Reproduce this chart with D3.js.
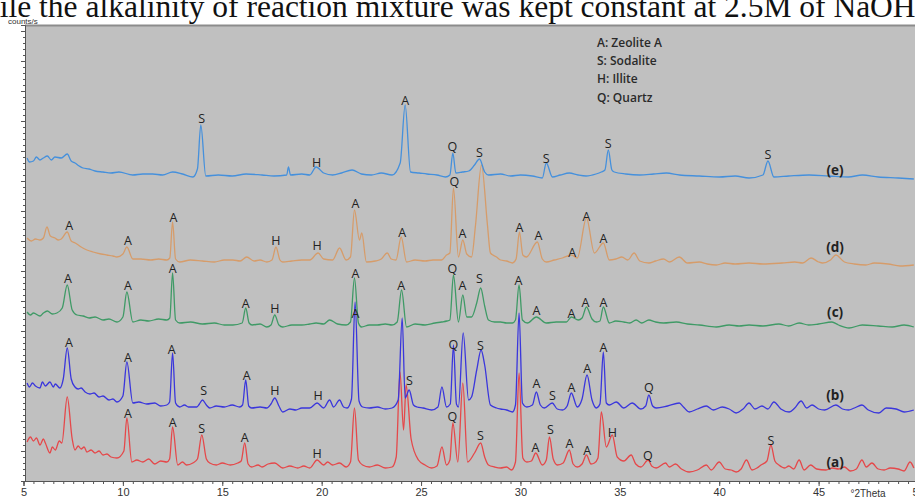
<!DOCTYPE html>
<html>
<head>
<meta charset="utf-8">
<script src="https://cdn.jsdelivr.net/npm/d3@7/dist/d3.min.js"></script>
<style>
  body { margin: 0; background: #fff; }
  svg { display: block; }
</style>
</head>
<body>
<svg width="915" height="500"></svg>
<script>
// XRD patterns (a)-(e). Each trace: [2theta, counts above its own offset]
const seriesNames = ['(a)', '(b)', '(c)', '(d)', '(e)'];
const offsets = [0, 700, 1550, 2150, 3000];

const traceA = [[5.18,390],[5.35,440],[5.5,400],[5.65,430],[5.83,360],[6.0,420],[6.1,380],[6.33,280],[6.45,340],[6.6,310],[6.8,400],
  [6.93,380],[7.2,840],[7.45,420],[7.59,310],[7.75,350],[7.9,320],[8.05,340],[8.19,290],[8.4,310],[8.6,280],[8.8,300],[9.0,260],
  [9.2,270],[9.4,240],[9.7,230],[10.05,300],[10.2,630],[10.45,190],[10.7,210],[11.0,190],[11.3,220],[11.6,170],[11.9,200],[12.21,190],
  [12.35,220],[12.5,540],[12.76,160],[13.0,190],[13.2,160],[13.52,180],[13.75,220],[13.97,460],[14.2,220],[14.37,180],[14.7,160],
  [15.0,180],[15.4,160],[15.78,180],[15.95,200],[16.13,380],[16.3,170],[16.48,140],[16.8,160],[17.0,140],[17.3,170],[17.64,180],
  [18.04,130],[18.4,150],[18.8,130],[19.1,150],[19.4,130],[19.77,210],[20.1,160],[20.3,190],[20.55,160],[20.9,180],[21.23,140],
  [21.45,190],[21.65,730],[21.85,210],[22.06,160],[22.4,140],[22.8,160],[23.2,130],[23.54,140],[23.75,240],[23.94,1090],[24.12,510],
  [24.25,960],[24.5,420],[24.87,210],[25.2,160],[25.53,130],[25.8,150],[26.05,340],[26.28,160],[26.45,210],[26.6,580],[26.85,190],
  [27.1,980],[27.34,190],[27.69,280],[28.0,380],[28.2,240],[28.39,160],[28.7,140],[29.0,130],[29.3,140],[29.55,110],[29.75,190],
  [29.93,1080],[30.12,230],[30.32,190],[30.55,200],[30.77,280],[31.1,160],[31.3,210],[31.46,440],[31.65,220],[31.86,160],[32.15,180],
  [32.46,310],[32.65,170],[32.86,140],[33.1,170],[33.32,260],[33.55,170],[33.72,180],[33.9,230],[34.07,690],[34.32,340],[34.62,460],
  [34.87,240],[35.2,200],[35.57,260],[35.8,170],[36.06,140],[36.43,210],[36.6,150],[36.83,130],[37.3,180],[37.49,140],[37.8,170],
  [38.1,120],[38.49,90],[38.9,110],[39.35,160],[39.6,110],[40.0,190],[40.3,120],[40.6,110],[40.85,90],[41.1,120],[41.37,210],
  [41.65,110],[41.9,130],[42.1,160],[42.4,200],[42.6,360],[42.8,200],[43.0,160],[43.3,130],[43.5,150],[43.75,120],[44.02,210],
  [44.27,110],[44.6,160],[44.9,120],[45.37,110],[45.7,130],[46.0,120],[46.3,140],[46.6,100],[46.9,120],[47.18,210],[47.4,140],
  [47.68,180],[48.0,120],[48.3,110],[48.6,130],[49.0,120],[49.3,100],[49.6,190],[49.79,130]];

const traceB = [[5.18,280],[5.3,240],[5.45,280],[5.6,250],[5.83,230],[5.95,290],[6.1,250],[6.33,290],[6.5,240],[6.6,270],[6.83,230],
  [7.0,320],[7.2,630],[7.4,320],[7.59,240],[7.75,220],[7.9,230],[8.1,190],[8.34,170],[8.55,180],[8.8,140],[9.0,150],[9.3,110],
  [9.5,120],[9.7,90],[10.0,150],[10.2,490],[10.5,80],[10.8,90],[11.2,70],[11.6,80],[11.9,50],[12.21,60],[12.35,90],[12.5,580],
  [12.65,80],[12.86,40],[13.1,60],[13.3,40],[13.72,40],[13.85,70],[14.0,110],[14.2,60],[14.37,30],[14.7,50],[15.1,40],[15.5,60],
  [15.87,40],[16.02,60],[16.18,310],[16.33,50],[16.48,30],[16.9,40],[17.24,30],[17.45,70],[17.64,130],[17.85,50],[18.04,-10],
  [18.4,20],[18.7,10],[19.0,30],[19.4,30],[19.77,80],[20.1,30],[20.4,110],[20.6,40],[20.9,110],[21.1,40],[21.28,30],[21.5,120],
  [21.68,1090],[21.88,100],[22.06,40],[22.4,30],[22.8,40],[23.2,20],[23.54,30],[23.85,110],[24.05,930],[24.2,130],[24.4,210],
  [24.62,60],[24.8,40],[25.1,30],[25.53,10],[25.85,40],[26.05,240],[26.28,40],[26.47,70],[26.63,660],[26.78,70],[26.88,40],
  [27.12,780],[27.39,110],[27.54,140],[27.8,410],[28.02,610],[28.2,460],[28.49,60],[28.8,30],[29.0,20],[29.3,10],[29.6,-10],
  [29.75,60],[29.93,980],[30.1,80],[30.32,40],[30.6,60],[30.8,190],[31.0,60],[31.2,30],[31.6,80],[31.85,20],[32.11,10],[32.35,50],
  [32.56,180],[32.86,40],[33.1,120],[33.35,360],[33.6,110],[33.82,30],[34.0,70],[34.17,590],[34.32,80],[34.47,60],[34.82,90],
  [35.2,30],[35.62,80],[36.06,20],[36.3,50],[36.46,160],[36.65,50],[36.83,30],[37.4,50],[37.99,80],[38.2,40],[38.49,-10],[38.9,20],
  [39.35,50],[39.7,10],[40.15,40],[40.5,20],[40.85,-20],[41.2,20],[41.5,80],[41.8,20],[42.15,50],[42.45,20],[42.75,90],[43.1,20],
  [43.52,-10],[43.8,30],[44.12,100],[44.4,30],[44.67,60],[45.0,20],[45.3,10],[45.87,60],[46.2,20],[46.5,10],[46.8,30],[47.18,60],
  [47.5,10],[48.03,-20],[48.4,30],[48.9,20],[49.3,-10],[49.79,10]];

const traceC = [[5.18,140],[5.35,110],[5.5,130],[5.83,100],[6.0,130],[6.2,150],[6.45,120],[6.68,130],[6.95,180],[7.2,410],[7.45,160],
  [7.69,110],[8.0,100],[8.3,80],[8.6,90],[9.0,60],[9.3,70],[9.7,40],[10.0,90],[10.2,340],[10.5,40],[10.9,60],[11.3,50],[11.8,70],
  [12.21,60],[12.36,80],[12.5,530],[12.65,60],[12.86,30],[13.4,40],[14.0,20],[14.6,30],[15.1,10],[15.53,10],[16.0,30],[16.18,180],
  [16.35,30],[16.5,10],[16.9,20],[17.24,-10],[17.45,10],[17.64,110],[17.85,10],[18.04,-10],[18.5,10],[19.0,10],[19.4,20],[19.72,30],
  [20.1,20],[20.4,60],[20.8,20],[21.23,10],[21.45,40],[21.65,480],[21.85,30],[22.0,-10],[22.4,10],[22.8,10],[23.2,20],[23.54,10],
  [23.8,40],[24.02,360],[24.27,-10],[24.7,20],[25.2,10],[25.7,30],[26.03,40],[26.3,50],[26.45,60],[26.63,510],[26.88,40],[27.1,310],
  [27.3,90],[27.54,90],[27.8,230],[28.0,380],[28.2,200],[28.39,60],[28.7,40],[29.0,40],[29.3,30],[29.6,30],[29.75,60],[29.93,410],
  [30.1,60],[30.35,30],[30.8,90],[31.3,30],[31.8,40],[32.31,40],[32.56,90],[32.91,60],[33.1,80],[33.32,190],[33.6,70],[33.82,40],
  [34.0,50],[34.17,190],[34.47,30],[34.8,50],[35.2,40],[35.5,30],[35.82,60],[36.1,30],[36.46,60],[36.8,40],[37.2,30],[37.84,40],
  [38.4,20],[39.0,10],[39.85,-10],[40.5,10],[41.0,0],[41.5,10],[42.2,0],[43.0,20],[43.5,0],[44.02,30],[44.5,10],[45.0,20],[45.67,40],
  [46.0,10],[46.53,-20],[47.2,10],[48.0,0],[48.7,-10],[49.3,10],[49.79,-10]];

const traceD = [[5.18,280],[5.4,250],[5.6,270],[5.83,260],[6.0,280],[6.18,390],[6.35,300],[6.58,280],[6.75,260],[6.9,270],[7.2,340],
  [7.4,250],[7.6,230],[7.9,190],[8.19,160],[8.5,140],[8.9,120],[9.2,110],[9.5,100],[9.7,90],[10.0,120],[10.2,190],[10.5,70],
  [10.9,70],[11.4,60],[11.8,70],[12.21,60],[12.36,80],[12.5,440],[12.65,70],[12.86,40],[13.4,60],[14.0,50],[14.6,40],[15.1,60],
  [15.53,60],[15.9,50],[16.23,90],[16.6,50],[16.9,60],[17.24,40],[17.5,60],[17.7,190],[17.9,60],[18.04,40],[18.5,50],[19.0,60],
  [19.4,60],[19.82,130],[20.1,70],[20.55,60],[20.9,180],[21.23,60],[21.45,90],[21.65,560],[21.9,260],[22.02,330],[22.25,40],
  [22.7,50],[23.0,70],[23.3,130],[23.5,70],[23.74,60],[24.0,290],[24.27,40],[24.7,60],[25.2,50],[25.6,60],[26.03,60],[26.28,110],
  [26.45,130],[26.63,780],[26.88,90],[27.1,260],[27.3,120],[27.54,90],[27.74,410],[28.04,1010],[28.34,410],[28.49,130],[28.8,90],
  [29.0,60],[29.3,50],[29.6,30],[29.78,70],[29.95,340],[30.12,110],[30.3,90],[30.85,240],[31.1,70],[31.3,40],[31.7,60],[32.11,80],
  [32.56,110],[32.86,80],[33.32,480],[33.72,130],[34.17,230],[34.47,60],[34.8,70],[35.1,90],[35.4,60],[35.72,130],[36.0,50],
  [36.46,30],[36.8,50],[37.2,70],[37.5,40],[37.99,90],[38.4,30],[39.0,40],[39.4,20],[39.85,10],[40.3,30],[40.8,20],[41.5,30],
  [42.2,20],[43.17,30],[43.8,40],[44.2,30],[44.62,80],[45.0,40],[45.2,30],[45.6,60],[45.87,110],[46.3,40],[46.8,20],[47.38,10],
  [47.8,30],[48.5,20],[49.1,0],[49.79,10]];

const traceE = [[5.18,230],[5.3,190],[5.5,200],[5.65,240],[5.83,210],[6.0,230],[6.2,250],[6.4,210],[6.58,240],[6.9,230],[7.2,270],
  [7.4,200],[7.59,180],[7.8,150],[7.99,130],[8.3,120],[8.6,100],[9.0,90],[9.4,80],[9.8,90],[10.5,60],[11.0,70],[11.5,70],[12.0,60],
  [12.5,90],[13.0,70],[13.52,40],[13.75,120],[13.92,560],[14.17,50],[14.8,60],[15.5,50],[16.2,70],[17.0,60],[17.6,50],[18.24,60],
  [18.33,140],[18.43,60],[19.0,70],[19.4,60],[19.72,140],[20.1,80],[20.55,60],[21.0,80],[21.53,110],[22.0,70],[22.5,60],[23.0,80],
  [23.54,60],[23.95,180],[24.2,760],[24.47,90],[24.9,80],[25.3,70],[25.8,60],[26.23,40],[26.45,60],[26.6,280],[26.75,80],[27.08,90],
  [27.4,100],[27.69,160],[27.94,220],[28.2,90],[28.39,60],[29.0,70],[29.5,50],[30.0,60],[30.6,50],[31.1,30],[31.3,180],[31.61,40],
  [32.0,60],[32.46,80],[32.9,60],[33.3,50],[33.8,70],[34.07,90],[34.25,110],[34.42,310],[34.6,110],[34.72,90],[35.3,70],[36.0,60],
  [36.7,70],[37.34,80],[38.0,60],[39.0,50],[40.0,40],[40.8,50],[41.5,30],[42.2,60],[42.45,200],[42.75,40],[43.5,50],[44.52,60],
  [45.5,50],[46.5,40],[47.2,60],[48.0,40],[49.0,30],[49.79,20]];

const traces = [traceA, traceB, traceC, traceD, traceE];

// Phase letters: [2theta, letter, counts above the trace offset]
const labelsA = [[10.25,'A',680],[12.51,'A',590],[13.97,'S',530],[16.13,'A',440],[19.77,'H',280],[26.58,'Q',650],[27.99,'S',460],
  [30.75,'A',340],[31.51,'S',520],[32.46,'A',380],[33.36,'A',310],[34.62,'H',490],[36.41,'Q',260],[42.6,'S',410]];
const labelsB = [[7.29,'A',690],[10.25,'A',540],[12.46,'A',620],[14.07,'S',210],[16.23,'A',360],[17.64,'H',210],[19.82,'H',160],
  [21.7,'A',980],[24.42,'S',310],[26.63,'Q',670],[27.99,'S',660],[30.8,'A',280],[31.61,'S',160],[32.56,'A',240],[33.36,'A',430],
  [34.17,'A',640],[36.46,'Q',240]];
const labelsC = [[7.24,'A',480],[10.25,'A',410],[12.51,'A',580],[16.18,'A',230],[17.64,'H',180],[21.7,'A',530],[24.0,'A',410],
  [26.58,'Q',580],[27.08,'A',410],[27.94,'S',480],[29.9,'A',460],[30.8,'A',160],[32.56,'A',130],[33.27,'A',240],[34.17,'A',240]];
const labelsD = [[7.3,'A',410],[10.25,'A',260],[12.55,'A',490],[17.7,'H',260],[19.77,'H',210],[21.7,'A',630],[24.05,'A',340],
  [26.68,'Q',850],[27.08,'A',330],[29.95,'A',390],[30.9,'A',310],[32.61,'A',140],[33.32,'A',500],[34.17,'A',280]];
const labelsE = [[13.97,'S',630],[19.74,'H',190],[24.2,'A',810],[26.58,'Q',350],[27.94,'S',290],[31.3,'S',230],[34.42,'S',380],
  [42.45,'S',270]];
const peakLabels = [labelsA, labelsB, labelsC, labelsD, labelsE];

// Sample tags at the right: [2theta, counts above offset]
const tagPositions = [[45.83,190],[45.83,160],[45.83,140],[45.83,190],[45.83,110]];

const legendLines = ['A: Zeolite A', 'S: Sodalite', 'H: Illite', 'Q: Quartz'];
const xTicks = [5, 10, 15, 20, 25, 30, 35, 40, 45, 50];

const colors = ['#e5484a', '#3a36dc', '#3f9a66', '#d69c6a', '#4590dc'];

const svg = d3.select('svg');

const plot = { left: 25, top: 25, bottom: 481, right: 915 };

const x = d3.scaleLinear().domain([5, 50]).range([23.5, 918]);
const y = d3.scaleLinear().domain([0, 4560]).range([plot.bottom, plot.top]);

// clipped caption line from the page above the figure
svg.append('text')
    .attr('x', -16)
    .attr('y', 17)
    .attr('font-family', '"Liberation Serif", serif')
    .attr('font-size', 31.5)
    .attr('fill', '#111')
    .text('hile the alkalinity of reaction mixture was kept constant at 2.5M of NaOH');

svg.append('text')
    .attr('x', 8)
    .attr('y', 23.5)
    .attr('font-family', '"Liberation Sans", sans-serif')
    .attr('font-size', 8)
    .attr('fill', '#333')
    .text('counts/s');

// grey plot background
svg.append('rect')
    .attr('x', plot.left)
    .attr('y', plot.top)
    .attr('width', plot.right - plot.left)
    .attr('height', plot.bottom - plot.top)
    .attr('fill', '#c0c0c0');

svg.append('line')
    .attr('x1', plot.left).attr('x2', plot.right)
    .attr('y1', plot.top + 0.5).attr('y2', plot.top + 0.5)
    .attr('stroke', '#8c8c8c')
    .attr('stroke-width', 2);

// x axis: majors every 5, minors every 0.5
const xAxisG = svg.append('g').attr('transform', `translate(0, ${plot.bottom})`);
xAxisG.append('g')
    .call(d3.axisBottom(x).tickValues(d3.range(5, 50.01, 0.5)).tickSize(3).tickFormat(''))
    .call(g => g.select('.domain').remove());
xAxisG.append('g')
    .call(d3.axisBottom(x).tickValues(xTicks).tickSize(5).tickPadding(2).tickFormat(d3.format('d')))
    .call(g => g.select('.domain').attr('stroke', '#555'))
    .call(g => g.selectAll('.tick text')
        .attr('font-family', '"Liberation Sans", sans-serif')
        .attr('font-size', 11)
        .attr('fill', '#333'));
xAxisG.selectAll('line').attr('stroke', '#555');

svg.append('text')
    .attr('x', 868)
    .attr('y', 497)
    .attr('text-anchor', 'middle')
    .attr('font-family', '"Liberation Sans", sans-serif')
    .attr('font-size', 10)
    .attr('fill', '#333')
    .text('°2Theta');

// y axis without labels, dense ticks
const yAxisG = svg.append('g').attr('transform', `translate(${plot.left}, 0)`);
yAxisG.append('g')
    .call(d3.axisLeft(y).tickValues(d3.range(0, 4561, 60)).tickSize(2).tickFormat(''))
    .call(g => g.select('.domain').remove());
yAxisG.append('g')
    .call(d3.axisLeft(y).tickValues(d3.range(0, 4561, 300)).tickSize(4).tickFormat(''))
    .call(g => g.select('.domain').attr('stroke', '#555'));
yAxisG.selectAll('line').attr('stroke', '#555');

// traces
const line = d3.line()
    .curve(d3.curveMonotoneX);

traces.forEach((tr, i) => {
    svg.append('path')
        .datum(tr)
        .attr('fill', 'none')
        .attr('stroke', colors[i])
        .attr('stroke-width', 1.3)
        .attr('stroke-linejoin', 'round')
        .attr('d', line.x(d => x(d[0])).y(d => y(offsets[i] + d[1])));
});

// phase letters
peakLabels.forEach((labels, i) => {
    svg.append('g').selectAll('text')
        .data(labels)
        .join('text')
            .attr('x', d => x(d[0]))
            .attr('y', d => y(offsets[i] + d[2]))
            .attr('dy', '0.36em')
            .attr('text-anchor', 'middle')
            .attr('font-family', '"Open Sans", sans-serif')
            .attr('font-size', 12.5)
            .attr('fill', '#222')
            .text(d => d[1]);
});

// sample tags
svg.append('g').selectAll('text')
    .data(tagPositions)
    .join('text')
        .attr('x', d => x(d[0]))
        .attr('y', (d, i) => y(offsets[i] + d[1]))
        .attr('dy', '0.36em')
        .attr('text-anchor', 'middle')
        .attr('font-family', '"Open Sans", sans-serif')
        .attr('font-weight', 'bold')
        .attr('font-size', 13.5)
        .attr('fill', '#222')
        .text((d, i) => seriesNames[i]);

// legend
svg.append('g').selectAll('text')
    .data(legendLines)
    .join('text')
        .attr('x', 597)
        .attr('y', (d, i) => 47 + i * 18.2)
        .attr('font-family', '"Open Sans", sans-serif')
        .attr('font-weight', 600)
        .attr('font-size', 12)
        .attr('fill', '#2a2a2a')
        .text(d => d);
</script>
</body>
</html>
